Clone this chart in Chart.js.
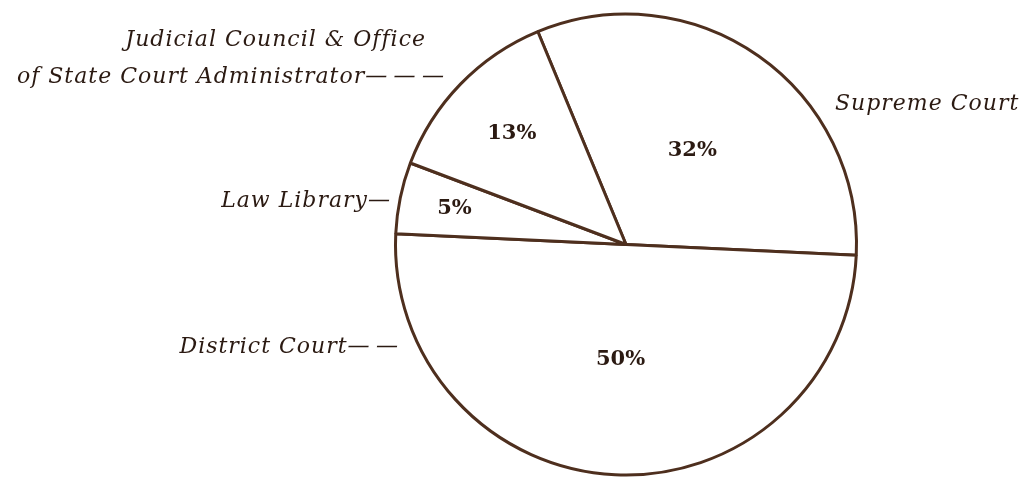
<!DOCTYPE html>
<html>
<head>
<meta charset="utf-8">
<title>Court Budget Shares</title>
<script src="https://cdn.jsdelivr.net/npm/chart.js@4/dist/chart.umd.min.js"></script>
<style>
  html, body { margin: 0; padding: 0; background: #fff; }
  canvas { display: block; }
</style>
</head>
<body>
<canvas id="pie" width="1026" height="482"></canvas>
<script>
const courts = ['Supreme Court', 'District Court', 'Law Library', 'Judicial Council & Office of State Court Administrator'];
const shares = [32, 50, 5, 13];

const ink = '#2b1a12';
const rule = '#4e2f1e';
const dash = '\u2014';
const gap = '\u2009';

// outside captions, placed as offsets from the pie centre
const captions = [
  { lines: ['Supreme Court'], align: 'left', dx: 209, dy: [-135] },
  { lines: ['District Court' + dash + gap + dash], align: 'right', dx: -227, dy: [108] },
  { lines: ['Law Library' + dash], align: 'right', dx: -235, dy: [-38] },
  { lines: ['Judicial Council & Office', 'of State Court Administrator' + dash + gap + dash + gap + dash],
    align: 'right', dx: [-200, -181], dy: [-199, -162] }
];
// how far out (fraction of radius) each percentage sits
const pctRadius = [0.5, 0.5, 0.76, 0.69];

const pieLabels = {
  id: 'pieLabels',
  afterDatasetsDraw(chart) {
    const ctx = chart.ctx;
    const arcs = chart.getDatasetMeta(0).data;
    ctx.save();
    ctx.fillStyle = ink;
    ctx.textBaseline = 'middle';
    ctx.textAlign = 'center';
    ctx.font = 'bold 21px "DejaVu Serif"';
    arcs.forEach((arc, i) => {
      const p = arc.getProps(['x', 'y', 'startAngle', 'endAngle', 'outerRadius'], true);
      const mid = (p.startAngle + p.endAngle) / 2;
      const r = p.outerRadius * pctRadius[i];
      ctx.fillText(shares[i] + '%', p.x + Math.cos(mid) * r, p.y + Math.sin(mid) * r);
    });

    const c = arcs[0];
    ctx.font = 'italic 22px "DejaVu Serif"';
    ctx.letterSpacing = '1px';
    ctx.textBaseline = 'alphabetic';
    captions.forEach(cap => {
      ctx.textAlign = cap.align;
      cap.lines.forEach((line, k) => {
        const dx = Array.isArray(cap.dx) ? cap.dx[k] : cap.dx;
        ctx.fillText(line, c.x + dx, c.y + cap.dy[k]);
      });
    });
    ctx.restore();
  }
};

new Chart(document.getElementById('pie'), {
  type: 'pie',
  data: {
    labels: courts,
    datasets: [{
      data: shares,
      backgroundColor: '#ffffff',
      borderColor: rule,
      borderWidth: 3
    }]
  },
  options: {
    responsive: false,
    animation: false,
    rotation: -22.5,
    layout: { padding: { left: 394, right: 168, top: 10, bottom: 3 } },
    plugins: {
      legend: { display: false },
      tooltip: { enabled: false }
    }
  },
  plugins: [pieLabels]
});
</script>
</body>
</html>
